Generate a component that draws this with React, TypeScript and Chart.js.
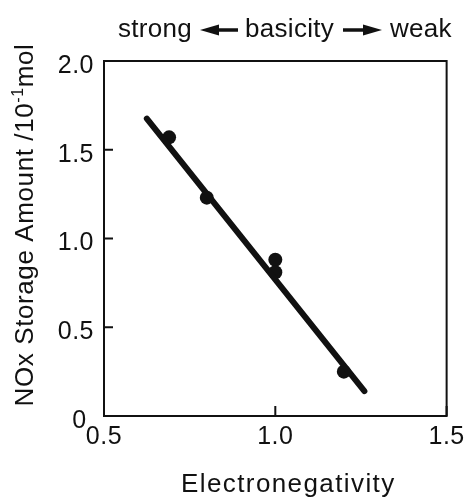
import React, { useEffect, useRef } from "react";
import { Chart, registerables } from "chart.js";

Chart.register(...registerables);

// ---- data ----
const pointX = [0.69, 0.8, 1.0, 1.0, 1.2];
const pointY = [1.57, 1.23, 0.88, 0.81, 0.25];
const fitX = [0.625, 1.26];
const fitY = [1.675, 0.14];
const xTicks = [0.5, 1.0, 1.5];
const yTicks = [0, 0.5, 1.0, 1.5, 2.0];
const xTitle = "Electronegativity";
const yTitleMain = "NOx Storage Amount /10";
const yTitleSup = "-1";
const yTitleEnd = "mol";
const topLeft = "strong";
const topMid = "basicity";
const topRight = "weak";

const FONT = '"Liberation Sans", Arial, Helvetica, sans-serif';
const INK = "#111111";

export default function App() {
  const ref = useRef<HTMLCanvasElement>(null);

  useEffect(() => {
    const canvas = ref.current!;

    const decor = {
      id: "decor",
      beforeDraw(chart: any) {
        chart.ctx.letterSpacing = "0.5px";
      },
      afterDraw(chart: any) {
        const { ctx, chartArea: a, scales } = chart;
        const xs = scales.x;
        const ys = scales.y;
        ctx.save();
        // frame
        ctx.strokeStyle = INK;
        ctx.lineWidth = 2;
        ctx.strokeRect(a.left, a.top, a.right - a.left, a.bottom - a.top);
        // inward ticks
        ctx.beginPath();
        for (const v of yTicks) {
          const p = ys.getPixelForValue(v);
          ctx.moveTo(a.left, p);
          ctx.lineTo(a.left + 9, p);
        }
        for (const v of xTicks) {
          const p = xs.getPixelForValue(v);
          ctx.moveTo(p, a.bottom);
          ctx.lineTo(p, a.bottom - 10);
        }
        ctx.stroke();

        ctx.fillStyle = INK;
        // top annotation
        ctx.font = `26px ${FONT}`;
        ctx.letterSpacing = "0.3px";
        ctx.textAlign = "left";
        ctx.textBaseline = "alphabetic";
        const base = 37;
        const ay = 30;
        const L = a.left;
        ctx.fillText(topLeft, L + 14, base);
        ctx.fillText(topMid, L + 141, base);
        ctx.fillText(topRight, L + 286, base);
        const arrow = (x0: number, x1: number, headAtLeft: boolean) => {
          ctx.lineWidth = 3.5;
          ctx.beginPath();
          if (headAtLeft) {
            ctx.moveTo(x0 + 12, ay);
            ctx.lineTo(x1, ay);
          } else {
            ctx.moveTo(x0, ay);
            ctx.lineTo(x1 - 12, ay);
          }
          ctx.stroke();
          ctx.beginPath();
          if (headAtLeft) {
            ctx.moveTo(x0, ay);
            ctx.lineTo(x0 + 19, ay - 5.5);
            ctx.lineTo(x0 + 19, ay + 5.5);
          } else {
            ctx.moveTo(x1, ay);
            ctx.lineTo(x1 - 19, ay - 5.5);
            ctx.lineTo(x1 - 19, ay + 5.5);
          }
          ctx.closePath();
          ctx.fill();
        };
        arrow(L + 96, L + 134, true);
        arrow(L + 239, L + 278, false);

        // x title
        ctx.font = `26px ${FONT}`;
        ctx.letterSpacing = "1.4px";
        ctx.textAlign = "center";
        ctx.fillText(xTitle, (a.left + a.right) / 2 + 13, 492);

        // y title (rotated, with superscript)
        ctx.letterSpacing = "0.6px";
        ctx.textAlign = "left";
        ctx.font = `26px ${FONT}`;
        const w1 = ctx.measureText(yTitleMain).width;
        const w3 = ctx.measureText(yTitleEnd).width;
        ctx.font = `16px ${FONT}`;
        const w2 = ctx.measureText(yTitleSup).width;
        const total = w1 + w2 + w3;
        ctx.translate(33, (a.top + a.bottom) / 2 - 13.5);
        ctx.rotate(-Math.PI / 2);
        let x = -total / 2;
        ctx.font = `26px ${FONT}`;
        ctx.fillText(yTitleMain, x, 0);
        x += w1;
        ctx.font = `16px ${FONT}`;
        ctx.fillText(yTitleSup, x, -10);
        x += w2;
        ctx.font = `26px ${FONT}`;
        ctx.fillText(yTitleEnd, x, 0);
        ctx.restore();
      },
    };

    const chart = new Chart(canvas, {
      type: "scatter",
      data: {
        datasets: [
          {
            type: "line",
            data: fitX.map((x, i) => ({ x, y: fitY[i] })),
            showLine: true,
            borderColor: INK,
            borderWidth: 6,
            borderCapStyle: "round",
            pointRadius: 0,
            fill: false,
          } as any,
          {
            data: pointX.map((x, i) => ({ x, y: pointY[i] })),
            backgroundColor: INK,
            borderWidth: 0,
            pointRadius: 7,
          },
        ],
      },
      options: {
        responsive: false,
        animation: false,
        layout: { padding: { left: 0, right: 23, top: 61, bottom: 0 } },
        plugins: { legend: { display: false }, tooltip: { enabled: false } },
        scales: {
          x: {
            type: "linear",
            min: 0.5,
            max: 1.5,
            grid: { display: false, drawTicks: false },
            border: { display: false },
            ticks: {
              stepSize: 0.5,
              color: INK,
              padding: 6,
              font: { family: FONT, size: 25 },
              callback: (v: any) => Number(v).toFixed(1),
            },
            afterFit: (s: any) => {
              s.height = 84;
            },
          },
          y: {
            type: "linear",
            min: 0,
            max: 2,
            grid: { display: false, drawTicks: false },
            border: { display: false },
            ticks: {
              stepSize: 0.5,
              color: INK,
              padding: 10,
              labelOffset: 5,
              font: { family: FONT, size: 25 },
              callback: (v: any) => (Number(v) === 0 ? "0 " : Number(v).toFixed(1)),
            },
            afterFit: (s: any) => {
              s.width = 104;
            },
          },
        },
      },
      plugins: [decor],
    });
    return () => chart.destroy();
  }, []);

  return (
    <div style={{ position: "absolute", left: 0, top: 0, width: 470, height: 500, background: "#fff" }}>
      <canvas ref={ref} width={470} height={500} style={{ display: "block" }} />
    </div>
  );
}
